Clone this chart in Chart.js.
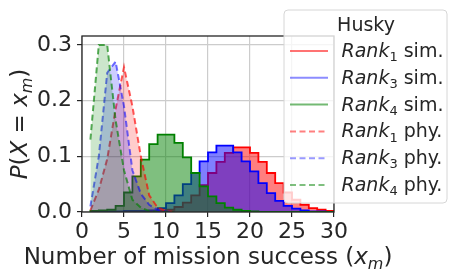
<!DOCTYPE html>
<html>
<head>
<meta charset="utf-8">
<script src="https://cdn.jsdelivr.net/npm/chart.js@4"></script>
<style>
  html, body { margin: 0; padding: 0; background: #fff; }
</style>
</head>
<body>
<canvas id="grafico" width="457" height="280"></canvas>
<script>
// histogram bins (left edges), width 1
const simBins = [1, 2, 3, 4, 5, 6, 7, 8, 9, 10, 11, 12, 13, 14, 15, 16, 17, 18, 19, 20, 21, 22, 23, 24, 25, 26, 27, 28, 29];
const simRank1 = [0, 0, 0, 0, 0, 0, 0.0005, 0.001, 0.002, 0.004, 0.009, 0.017, 0.03, 0.048, 0.07, 0.09, 0.106, 0.116, 0.116, 0.106, 0.09, 0.07, 0.052, 0.035, 0.022, 0.013, 0.007, 0.004, 0.002];
const simRank3 = [0, 0.001, 0.001, 0.001, 0.002, 0.002, 0.002, 0.003, 0.007, 0.016, 0.03, 0.05, 0.07, 0.091, 0.107, 0.119, 0.119, 0.107, 0.091, 0.073, 0.052, 0.034, 0.02, 0.011, 0.006, 0.003, 0.001, 0.001, 0];
const simRank4 = [0.002, 0.003, 0.004, 0.011, 0.035, 0.064, 0.094, 0.122, 0.139, 0.139, 0.124, 0.098, 0.07, 0.046, 0.028, 0.016, 0.008, 0.004, 0.002, 0.001, 0, 0, 0, 0, 0, 0, 0, 0, 0];

// physical runs
const phyX = [1, 2, 3, 4, 5, 6, 7, 8, 9, 10, 11];
const phyRank1 = [0.003, 0.04, 0.095, 0.185, 0.26, 0.19, 0.10, 0.03, 0.008, 0.002, 0];
const phyRank3 = [0.01, 0.10, 0.25, 0.27, 0.19, 0.075, 0.033, 0.013, 0.004, 0.001, 0];
const phyRank4 = [0.13, 0.30, 0.30, 0.165, 0.075, 0.022, 0.008, 0.002, 0, 0, 0];

const xTicks = [0, 5, 10, 15, 20, 25, 30];
const yTicks = [0.0, 0.1, 0.2, 0.3];

const legendTitle = 'Husky';
const legendItems = [
  { sub: '1', tail: ' sim.', color: 'rgba(255,0,0,0.55)', dash: [] },
  { sub: '3', tail: ' sim.', color: 'rgba(0,0,255,0.45)', dash: [] },
  { sub: '4', tail: ' sim.', color: 'rgba(0,128,0,0.55)', dash: [] },
  { sub: '1', tail: ' phy.', color: 'rgba(255,0,0,0.5)', dash: [6, 3.5] },
  { sub: '3', tail: ' phy.', color: 'rgba(0,0,255,0.4)', dash: [6, 3.5] },
  { sub: '4', tail: ' phy.', color: 'rgba(0,128,0,0.5)', dash: [6, 3.5] }
];

const FONT = 'DejaVu Sans';
const TICK_SIZE = 22;
const TITLE_SIZE = 23;
const LEGEND_SIZE = 19;

function stepPoints(values) {
  const pts = [{ x: simBins[0], y: 0 }];
  values.forEach((v, i) => pts.push({ x: simBins[i], y: v }));
  const last = values[values.length - 1];
  pts.push({ x: simBins[simBins.length - 1] + 1, y: last });
  pts.push({ x: simBins[simBins.length - 1] + 1, y: 0 });
  return pts;
}

function phyPoints(values) {
  return phyX.map((x, i) => ({ x: x, y: values[i] }));
}

function simSet(values, line, fill, order) {
  return {
    data: stepPoints(values), stepped: true, borderColor: line, backgroundColor: fill,
    borderWidth: 1.8, fill: 'origin', pointRadius: 0, order: order
  };
}

function phySet(values, line, fill, order) {
  return {
    data: phyPoints(values), borderColor: line, backgroundColor: fill, borderDash: [6, 3.5],
    borderWidth: 2, fill: 'origin', pointRadius: 0, tension: 0, order: order
  };
}

// draws text made of runs: [text, italic, subscript]
function drawRuns(ctx, runs, x, y, size, align) {
  const fontFor = r => (r[1] ? 'italic ' : '') + (r[2] ? Math.round(size * 0.7) : size) + 'px ' + FONT;
  let total = 0;
  runs.forEach(r => { ctx.font = fontFor(r); total += ctx.measureText(r[0]).width; });
  let cx = align === 'center' ? x - total / 2 : x;
  ctx.textAlign = 'left';
  ctx.textBaseline = 'alphabetic';
  runs.forEach(r => {
    ctx.font = fontFor(r);
    ctx.fillText(r[0], cx, y + (r[2] ? size * 0.22 : 0));
    cx += ctx.measureText(r[0]).width;
  });
}

const decorPlugin = {
  id: 'decor',
  afterDatasetsDraw(chart) {
    const ctx = chart.ctx;
    const a = chart.chartArea;
    ctx.save();
    ctx.strokeStyle = '#262626';
    ctx.lineWidth = 1.3;
    ctx.strokeRect(a.left, a.top, a.right - a.left, a.bottom - a.top);
    ctx.restore();
  },
  afterDraw(chart) {
    const ctx = chart.ctx;
    const a = chart.chartArea;
    ctx.save();
    ctx.fillStyle = '#262626';

    // x axis title
    drawRuns(ctx, [['Number of mission success (', false, false], ['x', true, false], ['m', true, true], [')', false, false]],
      (a.left + a.right) / 2, 264, TITLE_SIZE, 'center');

    // y axis title
    ctx.save();
    ctx.translate(27, (a.top + a.bottom) / 2);
    ctx.rotate(-Math.PI / 2);
    drawRuns(ctx, [['P', true, false], ['(', false, false], ['X', true, false], [' = ', false, false], ['x', true, false], ['m', true, true], [')', false, false]],
      0, 0, TITLE_SIZE, 'center');
    ctx.restore();

    // legend box
    const bx = 284, by = 10, bw = 163, bh = 193, r = 4;
    ctx.beginPath();
    ctx.moveTo(bx + r, by);
    ctx.arcTo(bx + bw, by, bx + bw, by + bh, r);
    ctx.arcTo(bx + bw, by + bh, bx, by + bh, r);
    ctx.arcTo(bx, by + bh, bx, by, r);
    ctx.arcTo(bx, by, bx + bw, by, r);
    ctx.closePath();
    ctx.fillStyle = 'rgba(255,255,255,0.8)';
    ctx.fill();
    ctx.strokeStyle = '#d6d6d6';
    ctx.lineWidth = 1;
    ctx.stroke();

    ctx.fillStyle = '#262626';
    drawRuns(ctx, [[legendTitle, false, false]], 366, 31, LEGEND_SIZE, 'center');

    legendItems.forEach((it, i) => {
      const base = 57 + i * 26.8;
      ctx.beginPath();
      ctx.setLineDash(it.dash);
      ctx.strokeStyle = it.color;
      ctx.lineWidth = 2;
      ctx.moveTo(290, base - 6);
      ctx.lineTo(328, base - 6);
      ctx.stroke();
      ctx.setLineDash([]);
      ctx.fillStyle = '#262626';
      drawRuns(ctx, [['Rank', true, false], [it.sub, false, true], [it.tail, false, false]], 341.5, base, LEGEND_SIZE, 'left');
    });
    ctx.restore();
  }
};

const ctx = document.getElementById('grafico').getContext('2d');
const chart = new Chart(ctx, {
  type: 'line',
  data: {
    datasets: [
      simSet(simRank1, 'rgb(255,0,0)', 'rgba(255,0,0,0.5)', 6),
      simSet(simRank3, 'rgb(0,0,255)', 'rgba(0,0,255,0.5)', 5),
      simSet(simRank4, 'rgb(0,128,0)', 'rgba(0,128,0,0.5)', 4),
      phySet(phyRank1, 'rgba(255,0,0,0.65)', 'rgba(255,0,0,0.2)', 3),
      phySet(phyRank3, 'rgba(0,0,255,0.55)', 'rgba(0,0,255,0.2)', 2),
      phySet(phyRank4, 'rgba(0,128,0,0.65)', 'rgba(0,128,0,0.2)', 1)
    ]
  },
  options: {
    responsive: false,
    animation: false,
    layout: { padding: { left: 0, right: 123, top: 36, bottom: 0 } },
    plugins: { legend: { display: false }, tooltip: { enabled: false } },
    scales: {
      x: {
        type: 'linear', min: xTicks[0], max: xTicks[xTicks.length - 1],
        afterBuildTicks: s => { s.ticks = xTicks.map(v => ({ value: v })); },
        ticks: { font: { family: FONT, size: TICK_SIZE }, color: '#262626', padding: 2, maxRotation: 0, callback: v => String(v) },
        grid: { color: '#cccccc', lineWidth: 1.2, tickLength: 5, tickColor: '#262626', tickWidth: 1.2 },
        border: { display: false },
        afterFit: s => { s.height = 68; }
      },
      y: {
        min: 0, max: 0.316,
        afterBuildTicks: s => { s.ticks = yTicks.map(v => ({ value: v })); },
        ticks: { font: { family: FONT, size: TICK_SIZE }, color: '#262626', padding: 5, callback: v => v.toFixed(1) },
        grid: { color: '#cccccc', lineWidth: 1.2, tickLength: 5, tickColor: '#262626', tickWidth: 1.2 },
        border: { display: false },
        afterFit: s => { s.width = 82; }
      }
    }
  },
  plugins: [decorPlugin]
});
</script>
</body>
</html>
